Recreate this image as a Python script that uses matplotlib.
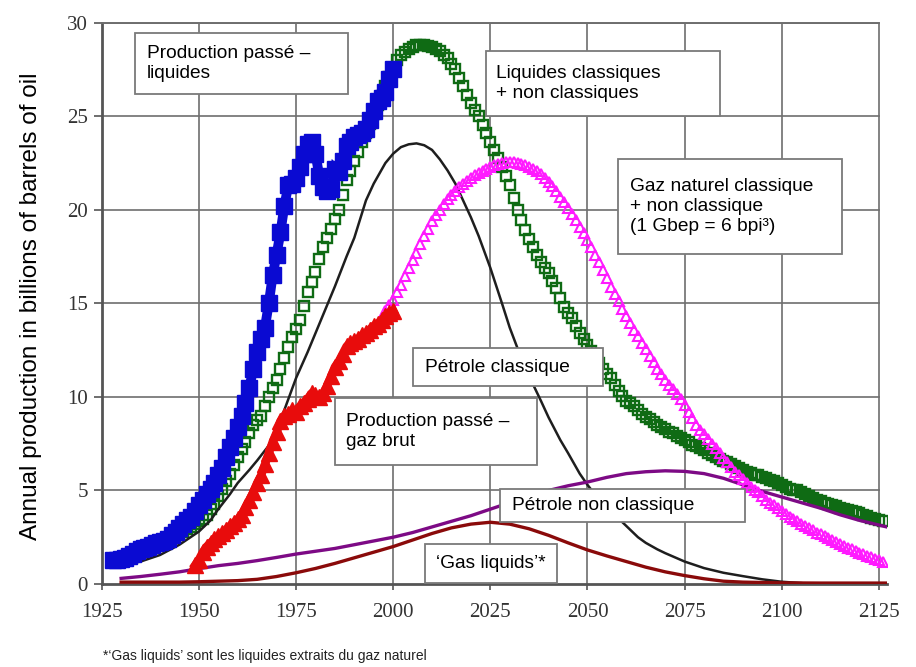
import matplotlib
matplotlib.use("Agg")
import matplotlib.pyplot as plt
from matplotlib.patches import Rectangle

# --- data (billions of barrels of oil equivalent / year) ---
blue_years = list(range(1928, 2001))
blue_vals = [1.3, 1.3, 1.35, 1.4, 1.5, 1.6, 1.75, 1.85, 1.9, 2.0, 2.1, 2.2, 2.25, 2.3,
             2.4, 2.6, 2.8, 3.0, 3.2, 3.4, 3.6, 3.9, 4.2, 4.5, 4.8, 5.1, 5.4, 5.8, 6.2,
             6.8, 7.3, 7.8, 8.4, 9.0, 9.7, 10.5, 11.5, 12.4, 13.1, 13.7, 15.0, 16.5,
             17.6, 18.8, 20.2, 21.3, 21.4, 21.7, 22.3, 23.0, 23.5, 23.6, 23.0, 21.8,
             21.2, 21.0, 21.1, 22.2, 22.0, 22.6, 23.4, 23.6, 23.9, 24.0, 24.1, 24.3,
             24.8, 25.3, 25.8, 26.0, 26.3, 27.0, 27.5]

# liquides classiques + non classiques, one value per year 1930..2126
green_vals = [1.3, 1.37, 1.45, 1.55, 1.65, 1.75, 1.85, 1.95, 2.05, 2.15,
              2.25, 2.32, 2.4, 2.5, 2.6, 2.7, 2.8, 2.92, 3.05, 3.2,
              3.35, 3.5, 3.7, 4.0, 4.3, 4.7, 5.1, 5.5, 5.9, 6.35,
              6.8, 7.2, 7.6, 8.05, 8.5, 8.75, 9.0, 9.5, 10.0, 10.45,
              10.9, 11.5, 12.1, 12.65, 13.2, 13.65, 14.1, 14.85, 15.6, 16.15,
              16.7, 17.35, 18.0, 18.5, 19.0, 19.5, 20.0, 20.8, 21.6, 22.1,
              22.6, 23.1, 23.6, 24.1, 24.6, 25.1, 25.6, 26.1, 26.6, 27.1,
              27.6, 28.0, 28.3, 28.45, 28.6, 28.7, 28.8, 28.8, 28.8, 28.75,
              28.7, 28.6, 28.5, 28.3, 28.1, 27.8, 27.5, 27.05, 26.6, 26.15,
              25.7, 25.35, 25.0, 24.55, 24.1, 23.65, 23.2, 22.75, 22.3, 21.8,
              21.3, 20.65, 20.0, 19.45, 18.9, 18.45, 18.0, 17.6, 17.2, 16.9,
              16.6, 16.2, 15.8, 15.3, 14.8, 14.5, 14.2, 13.8, 13.4, 13.1,
              12.8, 12.45, 12.1, 11.8, 11.5, 11.25, 11.0, 10.65, 10.3, 10.05,
              9.8, 9.65, 9.5, 9.3, 9.1, 8.95, 8.8, 8.65, 8.5, 8.4,
              8.3, 8.15, 8.05, 7.9, 7.8, 7.7, 7.6, 7.45, 7.35, 7.25,
              7.15, 7.0, 6.9, 6.8, 6.7, 6.6, 6.5, 6.4, 6.3, 6.2,
              6.1, 6.0, 5.95, 5.85, 5.8, 5.7, 5.65, 5.55, 5.5, 5.4,
              5.3, 5.2, 5.1, 5.05, 5.0, 4.9, 4.8, 4.7, 4.6, 4.5,
              4.45, 4.35, 4.3, 4.2, 4.15, 4.05, 4.0, 3.95, 3.9, 3.85,
              3.8, 3.7, 3.65, 3.55, 3.5, 3.4, 3.35]
green_years = list(range(1930, 2127))

black_years = [1930, 1935, 1940, 1945, 1950, 1953, 1955, 1958, 1960, 1963, 1965, 1968,
               1970, 1972, 1975, 1978, 1980, 1983, 1985, 1988, 1990, 1993, 1995, 1998,
               2000, 2002, 2004, 2006, 2008, 2010, 2012, 2014, 2016, 2018, 2020, 2022,
               2025, 2028, 2030, 2032, 2035, 2038, 2040, 2043, 2045, 2048, 2050, 2053,
               2055, 2058, 2060, 2063, 2065, 2068, 2070, 2075, 2080, 2085, 2090, 2095,
               2100, 2105]
black_vals = [1.0, 1.2, 1.55, 2.1, 2.8, 3.4, 4.0, 4.8, 5.4, 6.1, 6.6, 7.4,
              8.3, 9.3, 11.0, 12.4, 13.4, 14.9, 15.9, 17.5, 18.5, 20.5, 21.4, 22.5,
              23.0, 23.35, 23.5, 23.55, 23.45, 23.2, 22.7, 22.1, 21.4, 20.5, 19.6, 18.6,
              16.9, 15.0, 13.7, 12.6, 11.1, 9.8, 8.9, 7.7, 7.0, 5.9, 5.3, 4.5,
              4.1, 3.5, 3.1, 2.5, 2.2, 1.85, 1.65, 1.2, 0.85, 0.6, 0.42, 0.25,
              0.12, 0.05]

# gaz naturel classique + non classique, one value per year 1998..2126
magenta_vals = [14.6, 14.9,
                15.2, 15.6, 16.0, 16.45, 16.9, 17.3, 17.7, 18.15, 18.6, 19.0,
                19.4, 19.7, 20.0, 20.3, 20.6, 20.8, 21.0, 21.2, 21.4, 21.55,
                21.7, 21.85, 21.95, 22.1, 22.2, 22.3, 22.4, 22.45, 22.5, 22.53,
                22.55, 22.53, 22.5, 22.45, 22.4, 22.3, 22.2, 22.05, 21.9, 21.7,
                21.5, 21.25, 21.0, 20.7, 20.4, 20.1, 19.8, 19.45, 19.1, 18.75,
                18.4, 18.0, 17.6, 17.2, 16.8, 16.35, 15.9, 15.5, 15.1, 14.7,
                14.3, 13.95, 13.6, 13.25, 12.9, 12.55, 12.2, 11.85, 11.5, 11.2,
                10.9, 10.65, 10.4, 10.15, 9.9, 9.55, 9.2, 8.85, 8.5, 8.25,
                8.0, 7.75, 7.5, 7.25, 7.0, 6.75, 6.5, 6.25, 6.0, 5.8,
                5.6, 5.4, 5.2, 5.05, 4.9, 4.7, 4.5, 4.35, 4.2, 4.05,
                3.9, 3.75, 3.6, 3.5, 3.35, 3.2, 3.1, 3.0, 2.9, 2.75,
                2.65, 2.55, 2.45, 2.35, 2.25, 2.15, 2.05, 1.95, 1.85, 1.75,
                1.65, 1.58, 1.5, 1.42, 1.35, 1.28, 1.2]
magenta_years = list(range(1998, 2127))

red_years = list(range(1949, 2001))
red_vals = [1.0, 1.3, 1.7, 2.0, 2.2, 2.4, 2.55, 2.7, 2.9, 3.1, 3.25, 3.45, 3.7, 4.1,
            4.5, 4.9, 5.4, 5.8, 6.4, 7.0, 7.6, 8.1, 8.7, 9.0, 9.1, 9.3, 9.2, 9.5, 9.7,
            9.9, 10.2, 10.1, 10.0, 10.2, 10.6, 11.1, 11.6, 11.9, 12.3, 12.7, 12.9, 13.0,
            13.1, 13.3, 13.4, 13.6, 13.8, 13.9, 14.1, 14.3, 14.5, 14.6]

purple_years = [1930, 1935, 1940, 1945, 1950, 1955, 1960, 1965, 1970, 1975, 1980, 1985,
                1990, 1995, 2000, 2005, 2010, 2015, 2020, 2025, 2030, 2035, 2040, 2045,
                2050, 2055, 2060, 2065, 2070, 2075, 2080, 2085, 2090, 2095, 2100, 2105,
                2110, 2115, 2120, 2125, 2127]
purple_vals = [0.3, 0.4, 0.52, 0.65, 0.82, 0.98, 1.1, 1.25, 1.42, 1.6, 1.75, 1.9, 2.1,
               2.3, 2.5, 2.75, 3.05, 3.35, 3.65, 4.0, 4.35, 4.7, 5.0, 5.25, 5.45, 5.7,
               5.9, 6.0, 6.05, 6.02, 5.9, 5.65, 5.3, 4.95, 4.65, 4.35, 4.05, 3.7, 3.4,
               3.15, 3.05]

dred_years = [1930, 1935, 1940, 1945, 1950, 1955, 1960, 1965, 1970, 1975, 1980, 1985,
              1990, 1995, 2000, 2005, 2010, 2015, 2020, 2025, 2030, 2035, 2040, 2045,
              2050, 2055, 2060, 2065, 2070, 2075, 2080, 2085, 2090, 2095, 2100, 2110,
              2120, 2127]
dred_vals = [0.1, 0.1, 0.1, 0.1, 0.12, 0.15, 0.18, 0.25, 0.4, 0.6, 0.83, 1.1, 1.4, 1.7,
             2.0, 2.35, 2.7, 3.0, 3.2, 3.3, 3.2, 2.95, 2.6, 2.2, 1.82, 1.5, 1.2, 0.9,
             0.65, 0.45, 0.28, 0.15, 0.1, 0.08, 0.06, 0.05, 0.05, 0.05]

x_ticks = [1925, 1950, 1975, 2000, 2025, 2050, 2075, 2100, 2125]
y_ticks = [0, 5, 10, 15, 20, 25, 30]

W, H = 916, 667
fig = plt.figure(figsize=(W / 100, H / 100), dpi=100)
ax = fig.add_axes([101.7 / W, 83 / H, 785 / W, 561.3 / H])

ax.set_xlim(1925, 2127)
ax.set_ylim(0, 30)

grid_c = "#6e6e6e"
for xv in x_ticks[1:]:
    ax.axvline(xv, color=grid_c, lw=1.2, zorder=1)
for yv in y_ticks[1:]:
    ax.plot([1925, 2125], [yv, yv], color=grid_c, lw=1.2, zorder=1)

ax.plot(green_years, green_vals, ls="none", marker="s", ms=7, mfc="none",
        mec="#0f6b14", mew=1.7, zorder=3)
ax.plot(black_years, black_vals, color="#1e1e1e", lw=1.8, zorder=4)
ax.plot(purple_years, purple_vals, color="#7d0a85", lw=2.4, zorder=4)
ax.plot(dred_years, dred_vals, color="#8a0a0a", lw=2.4, zorder=4)
ax.plot(magenta_years, magenta_vals, ls="none", marker="^", ms=6.5, mfc="none",
        mec="#ff1aff", mew=1.5, zorder=5)
# the historic series read as thick bands of stacked markers
ax.plot(blue_years, blue_vals, ls="-", lw=7, marker="s", ms=11, color="#0a0ad2",
        solid_joinstyle="miter", zorder=6)
ax.plot(red_years, red_vals, ls="-", lw=6, marker="^", ms=11, color="#e80c0c",
        zorder=6)

# frame
for s in ["left", "bottom"]:
    ax.spines[s].set_color("#555555")
    ax.spines[s].set_linewidth(2)
ax.spines["right"].set_visible(False)
ax.spines["top"].set_color(grid_c)
ax.spines["top"].set_linewidth(1.4)
ax.spines["top"].set_bounds(1925, 2125)

ax.set_xticks(x_ticks)
ax.set_yticks(y_ticks)
ax.set_xticklabels([str(v) for v in x_ticks], family="Liberation Serif", fontsize=15,
                   color="#333333")
ax.set_yticklabels([str(v) for v in y_ticks], family="Liberation Serif", fontsize=15,
                   color="#333333")
ax.tick_params(axis="y", length=6, width=1.2, color="#555555", pad=4)
ax.tick_params(axis="x", length=4, width=1.2, color="#555555", pad=10)

fig.text(31 / W, 1 - 306 / H, "Annual production in billions of barrels of oil",
         rotation=90, ha="center", va="center", family="Liberation Sans", fontsize=17.5)

fig.text(103 / W, 1 - 656 / H,
         "*\u2018Gas liquids\u2019 sont les liquides extraits du gaz naturel",
         ha="left", va="center", family="Liberation Sans", fontsize=10, color="#222222")

# annotation boxes: (x0, y0, x1, y1) in pixels from top-left, text x, label
boxes = [
    ((135, 33, 348, 94), 147, "Production passé \u2013\nliquides"),
    ((486, 51, 720, 116), 496, "Liquides classiques\n+ non classiques"),
    ((618, 159, 842, 254), 630, "Gaz naturel classique\n+ non classique\n(1 Gbep = 6 bpi\u00b3)"),
    ((413, 348, 603, 386), 425, "Pétrole classique"),
    ((335, 398, 537, 465), 346, "Production passé \u2013\ngaz brut"),
    ((500, 489, 745, 522), 512, "Pétrole non classique"),
    ((425, 544, 557, 583), 436, "\u2018Gas liquids\u2019*"),
]
for (x0, y0, x1, y1), tx, label in boxes:
    r = Rectangle((x0 / W, 1 - y1 / H), (x1 - x0) / W, (y1 - y0) / H,
                  transform=fig.transFigure, facecolor="white", edgecolor="#7a7a7a",
                  lw=1.3, zorder=10, clip_on=False)
    ax.add_patch(r)
    ax.text(tx / W, 1 - (y0 + y1) / 2 / H, label, transform=fig.transFigure,
            ha="left", va="center", family="Liberation Sans", fontsize=13.8,
            linespacing=1.25, zorder=11, clip_on=False)

fig.savefig("out.png", dpi=100)
